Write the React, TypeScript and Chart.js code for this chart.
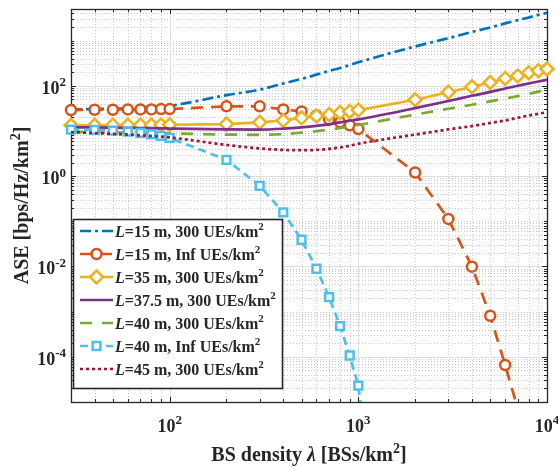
import React, { useEffect, useRef } from "react";
import { Chart, registerables } from "chart.js";
Chart.register(...registerables);

// BS density grid (BSs/km^2)
const xs = [30, 40, 50, 60, 70, 80, 90, 100, 200, 300, 400, 500, 600, 700, 800, 900, 1000, 2000, 3000, 4000, 5000, 6000, 7000, 8000, 9000, 10000];
const xsInf15 = [30, 40, 50, 60, 70, 80, 90, 100, 200, 300, 400, 500, 600, 700, 800, 900, 1000, 2000, 3000, 4000, 5000, 6000, 7000];
const xsInf40 = [30, 40, 50, 60, 70, 80, 90, 100, 200, 300, 400, 500, 600, 700, 800, 900, 1000, 2000];

// ASE values (bps/Hz/km^2)
const aseL15_300 = [30, 30.5, 31, 31.5, 32.5, 33.5, 35, 36, 62, 82, 112, 142, 176, 213, 248, 287, 330, 740, 1130, 1550, 1950, 2400, 2830, 3250, 3700, 4100];
const aseL15_Inf = [29, 29.5, 29.5, 30, 30, 30, 30.5, 30.5, 35, 35, 30, 27, 22, 18, 15.5, 13.3, 11, 1.2, 0.113, 0.0099, 8.1e-4, 6.6e-5, 7e-6];
const aseL35_300 = [13.3, 13.3, 13.4, 13.4, 13.5, 13.5, 13.6, 13.7, 14.2, 15.5, 17, 19.5, 21.5, 23, 25.5, 27, 29, 49, 72, 95, 118, 145, 165, 195, 215, 235];
const aseL375_300 = [12, 12, 11.8, 11.7, 11.6, 11.5, 11.4, 11.3, 10.8, 10.7, 11.2, 12, 13, 14, 15.5, 16.8, 18, 32, 46, 60, 73, 87, 100, 112, 124, 136];
const aseL40_300 = [9.6, 9.5, 9.3, 9.2, 9.1, 9.0, 8.9, 8.8, 8.3, 8.2, 8.5, 9.2, 9.9, 10.7, 11.6, 12.5, 13.5, 23, 31, 38, 45, 52, 59, 66, 74, 82];
const aseL40_Inf = [10.7, 10.5, 10.2, 9.7, 9.1, 8.4, 7.8, 7.0, 2.3, 0.61, 0.158, 0.039, 0.0089, 0.0021, 4.8e-4, 1.07e-4, 2.3e-5, 2e-15];
const aseL45_300 = [9.4, 9.0, 8.6, 8.3, 8.0, 7.7, 7.5, 7.2, 4.9, 4.1, 3.8, 3.75, 3.8, 4.0, 4.3, 4.7, 5.2, 8.3, 10.8, 12.8, 15, 17, 19.5, 22, 24, 26];

const legendLabels = [
  "15 m, 300",
  "15 m, Inf",
  "35 m, 300",
  "37.5 m, 300",
  "40 m, 300",
  "40 m, Inf",
  "45 m, 300",
];
const yTickExps = [-4, -2, 0, 2];
const xTickExps = [2, 3, 4];

const FONT = '"Liberation Serif", "Times New Roman", serif';

type Seg = { t: string; it?: boolean; sup?: boolean };

function segFont(s: Seg, size: number) {
  const sz = s.sup ? Math.round(size * 0.7) : size;
  return `${s.it ? "italic " : ""}bold ${sz}px ${FONT}`;
}
function measureSegs(ctx: CanvasRenderingContext2D, segs: Seg[], size: number) {
  let w = 0;
  for (const s of segs) {
    ctx.font = segFont(s, size);
    w += ctx.measureText(s.t).width;
  }
  return w;
}
function drawSegs(ctx: CanvasRenderingContext2D, segs: Seg[], x: number, y: number, size: number) {
  let cx = x;
  ctx.textBaseline = "alphabetic";
  ctx.textAlign = "left";
  for (const s of segs) {
    ctx.font = segFont(s, size);
    ctx.fillText(s.t, cx, s.sup ? y - size * 0.42 : y);
    cx += ctx.measureText(s.t).width;
  }
}

type Style = {
  color: string;
  dash: number[];
  marker: false | "circle" | "rectRot" | "rect";
  radius: number;
};

const styles: Style[] = [
  { color: "#0072BD", dash: [11, 4, 3, 4], marker: false, radius: 0 },
  { color: "#D95319", dash: [12, 8], marker: "circle", radius: 5 },
  { color: "#EDB120", dash: [], marker: "rectRot", radius: 6.5 },
  { color: "#7E2F8E", dash: [], marker: false, radius: 0 },
  { color: "#77AC30", dash: [12, 10], marker: false, radius: 0 },
  { color: "#4DBEEE", dash: [8, 5], marker: "rect", radius: 5.5 },
  { color: "#A2142F", dash: [3, 3], marker: false, radius: 0 },
];
const LW = 2.7;

const seriesX = [xs, xsInf15, xs, xs, xs, xsInf40, xs];
const seriesY = [aseL15_300, aseL15_Inf, aseL35_300, aseL375_300, aseL40_300, aseL40_Inf, aseL45_300];

const gridPlugin = {
  id: "matlabGrid",
  beforeDatasetsDraw(chart: any) {
    const { ctx, chartArea: a, scales } = chart;
    const xS = scales.x;
    const yS = scales.y;
    ctx.save();
    ctx.strokeStyle = "#c9c9c9";
    ctx.lineWidth = 1;
    ctx.setLineDash([1, 2]);
    const xMinor: number[] = [];
    for (let k = 1; k <= 3; k++) for (let m = 2; m <= 9; m++) {
      const v = m * Math.pow(10, k);
      if (v > 30 && v < 10000) xMinor.push(v);
    }
    const yMinor: number[] = [];
    for (let k = -5; k <= 3; k++) {
      for (let m = 1; m <= 9; m++) {
        if (m === 1 && k % 2 === 0) continue;
        if (m === 1 && k === -5) continue;
        const v = m * Math.pow(10, k);
        if (v > 1e-5 && v < 5000) yMinor.push(v);
      }
    }
    for (const v of xMinor) {
      const px = Math.round(xS.getPixelForValue(v)) + 0.5;
      ctx.beginPath(); ctx.moveTo(px, a.top); ctx.lineTo(px, a.bottom); ctx.stroke();
    }
    for (const v of yMinor) {
      const py = Math.round(yS.getPixelForValue(v)) + 0.5;
      ctx.beginPath(); ctx.moveTo(a.left, py); ctx.lineTo(a.right, py); ctx.stroke();
    }
    ctx.setLineDash([]);
    ctx.strokeStyle = "#dedede";
    for (const e of [2, 3]) {
      const px = Math.round(xS.getPixelForValue(Math.pow(10, e))) + 0.5;
      ctx.beginPath(); ctx.moveTo(px, a.top); ctx.lineTo(px, a.bottom); ctx.stroke();
    }
    for (const e of yTickExps) {
      const py = Math.round(yS.getPixelForValue(Math.pow(10, e))) + 0.5;
      ctx.beginPath(); ctx.moveTo(a.left, py); ctx.lineTo(a.right, py); ctx.stroke();
    }
    ctx.strokeStyle = "#262626";
    ctx.lineWidth = 1;
    const tickX = (v: number, len: number) => {
      const px = Math.round(xS.getPixelForValue(v)) + 0.5;
      ctx.beginPath(); ctx.moveTo(px, a.bottom); ctx.lineTo(px, a.bottom - len); ctx.stroke();
      ctx.beginPath(); ctx.moveTo(px, a.top); ctx.lineTo(px, a.top + len); ctx.stroke();
    };
    const tickY = (v: number, len: number) => {
      const py = Math.round(yS.getPixelForValue(v)) + 0.5;
      ctx.beginPath(); ctx.moveTo(a.left, py); ctx.lineTo(a.left + len, py); ctx.stroke();
      ctx.beginPath(); ctx.moveTo(a.right, py); ctx.lineTo(a.right - len, py); ctx.stroke();
    };
    for (const v of xMinor) tickX(v, 3);
    for (const e of [2, 3]) tickX(Math.pow(10, e), 5);
    for (const v of yMinor) tickY(v, 3);
    for (const e of yTickExps) tickY(Math.pow(10, e), 5);
    ctx.lineWidth = 1.3;
    ctx.strokeRect(Math.round(a.left) + 0.5, Math.round(a.top) + 0.5, Math.round(a.right - a.left), Math.round(a.bottom - a.top));
    ctx.restore();
  },
};

const textPlugin = {
  id: "matlabText",
  afterDatasetsDraw(chart: any) {
    const { ctx, chartArea: a, scales } = chart;
    const xS = scales.x;
    const yS = scales.y;
    ctx.save();
    ctx.fillStyle = "#262626";
    for (const e of yTickExps) {
      const segs: Seg[] = [{ t: "10" }, { t: String(e), sup: true }];
      const w = measureSegs(ctx, segs, 18);
      const py = yS.getPixelForValue(Math.pow(10, e));
      drawSegs(ctx, segs, 66 - w, py + 8, 18);
    }
    for (const e of xTickExps) {
      const segs: Seg[] = [{ t: "10" }, { t: String(e), sup: true }];
      const w = measureSegs(ctx, segs, 18);
      const px = xS.getPixelForValue(Math.pow(10, e));
      drawSegs(ctx, segs, px - w / 2, 432, 18);
    }
    const xt: Seg[] = [{ t: "BS density " }, { t: "λ", it: true }, { t: " [BSs/km" }, { t: "2", sup: true }, { t: "]" }];
    const xw = measureSegs(ctx, xt, 20);
    drawSegs(ctx, xt, (a.left + a.right) / 2 - xw / 2, 461, 20);
    const yt: Seg[] = [{ t: "ASE [bps/Hz/km" }, { t: "2", sup: true }, { t: "]" }];
    const yw = measureSegs(ctx, yt, 20);
    ctx.save();
    ctx.translate(28, (a.top + a.bottom) / 2);
    ctx.rotate(-Math.PI / 2);
    drawSegs(ctx, yt, -yw / 2, 0, 20);
    ctx.restore();

    // legend
    const bx = 73, by = 219, bw = 209, bh = 169;
    ctx.fillStyle = "#ffffff";
    ctx.fillRect(bx, by, bw, bh);
    ctx.strokeStyle = "#262626";
    ctx.lineWidth = 1.6;
    ctx.strokeRect(bx + 0.5, by + 0.5, bw, bh);
    const rowH = 23;
    legendLabels.forEach((lab, i) => {
      const st = styles[i];
      const cy = by + 12 + i * rowH;
      const x0 = 80, x1 = 113;
      ctx.save();
      ctx.strokeStyle = st.color;
      ctx.lineWidth = LW;
      ctx.setLineDash(st.dash);
      ctx.beginPath(); ctx.moveTo(x0, cy); ctx.lineTo(x1, cy); ctx.stroke();
      ctx.setLineDash([]);
      if (st.marker) {
        const mx = (x0 + x1) / 2;
        const r = st.radius;
        ctx.fillStyle = "#fff";
        ctx.lineWidth = 2.5;
        ctx.beginPath();
        if (st.marker === "circle") ctx.arc(mx, cy, r, 0, Math.PI * 2);
        else if (st.marker === "rectRot") { ctx.moveTo(mx - r, cy); ctx.lineTo(mx, cy - r); ctx.lineTo(mx + r, cy); ctx.lineTo(mx, cy + r); ctx.closePath(); }
        else { const h = r * Math.SQRT1_2; ctx.rect(mx - h, cy - h, 2 * h, 2 * h); }
        ctx.fill(); ctx.stroke();
      }
      ctx.restore();
      ctx.fillStyle = "#262626";
      const parts = lab.split(", ");
      const segs: Seg[] = [{ t: "L", it: true }, { t: "=" + parts[0] + ", " + parts[1] + " UEs/km" }, { t: "2", sup: true }];
      drawSegs(ctx, segs, 115, cy + 6, 16);
    });
    ctx.restore();
  },
};

export default function App() {
  const ref = useRef<HTMLCanvasElement | null>(null);
  useEffect(() => {
    if (!ref.current) return;
    const datasets = styles.map((st, i) => ({
      label: legendLabels[i],
      data: seriesX[i].map((x, j) => ({ x, y: seriesY[i][j] })),
      borderColor: st.color,
      backgroundColor: "#ffffff",
      borderWidth: LW,
      borderDash: st.dash,
      borderCapStyle: "butt" as const,
      pointStyle: st.marker || "circle",
      pointRadius: st.marker ? st.radius : 0,
      pointBorderWidth: 2.5,
      pointBorderColor: st.color,
      pointBackgroundColor: "#ffffff",
      tension: 0,
      cubicInterpolationMode: st.marker ? "default" : "monotone",
      fill: false,
      order: 6 - i,
      clip: { left: 10, top: 10, right: 10, bottom: 0 },
    }));
    const chart = new Chart(ref.current, {
      type: "line",
      data: { datasets } as any,
      options: {
        animation: false,
        responsive: false,
        maintainAspectRatio: false,
        devicePixelRatio: 1,
        layout: { padding: { left: 0, right: 11, top: 5, bottom: 0 } },
        plugins: { legend: { display: false }, tooltip: { enabled: false } },
        events: [],
        scales: {
          x: {
            type: "logarithmic",
            min: 30,
            max: 10000,
            bounds: "data",
            ticks: { display: false },
            grid: { display: false },
            border: { display: false },
            afterFit: (s: any) => { s.height = 65; },
          },
          y: {
            type: "logarithmic",
            min: 1e-5,
            max: 5000,
            bounds: "data",
            ticks: { display: false },
            grid: { display: false },
            border: { display: false },
            afterFit: (s: any) => { s.width = 71; },
          },
        },
      } as any,
      plugins: [gridPlugin, textPlugin],
    });
    return () => chart.destroy();
  }, []);
  return (
    <div style={{ position: "fixed", left: 0, top: 0, width: 558, height: 467, background: "#fff" }}>
      <canvas ref={ref} width={558} height={467} style={{ display: "block", width: 558, height: 467 }} />
    </div>
  );
}
